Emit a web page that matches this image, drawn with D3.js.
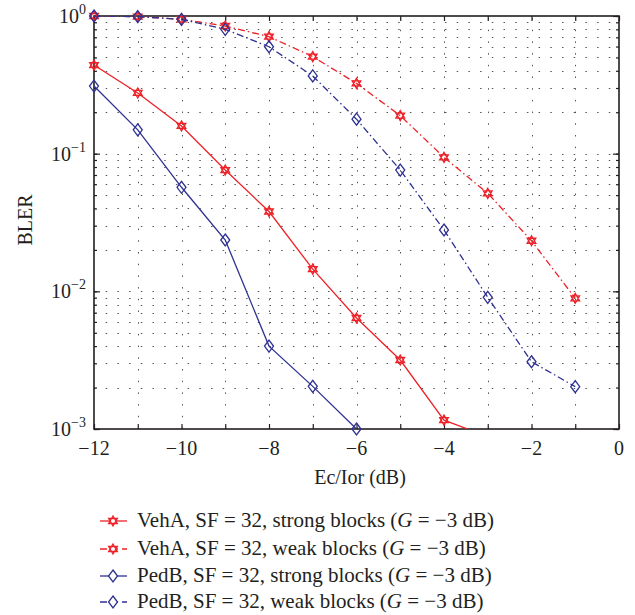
<!DOCTYPE html>
<html>
<head>
<meta charset="utf-8">
<script src="https://cdn.jsdelivr.net/npm/d3@7"></script>
<style>
  html, body { margin: 0; padding: 0; background: #fff; }
  svg { display: block; }
  text { font-family: "Liberation Serif", "DejaVu Serif", serif; fill: #231f20; }
</style>
</head>
<body>
<svg id="chart" width="635" height="615"></svg>
<script>
// ---- data ----
const xValues = [-12, -11, -10, -9, -8, -7, -6, -5, -4, -3, -2, -1];
const vehAStrong = [0.44, 0.276, 0.159, 0.076, 0.038, 0.0145, 0.0064, 0.00317, 0.00116, 0.00088];
const vehAWeak   = [1.0, 0.99, 0.946, 0.846, 0.708, 0.507, 0.324, 0.189, 0.094, 0.0515, 0.0233, 0.0089];
const pedBStrong = [0.31, 0.149, 0.057, 0.0236, 0.0040, 0.00204, 0.0010];
const pedBWeak   = [1.0, 0.99, 0.946, 0.80, 0.598, 0.367, 0.178, 0.076, 0.0279, 0.00905, 0.00308, 0.00203];
const seriesNames = [
  "VehA, SF = 32, strong blocks",
  "VehA, SF = 32, weak blocks",
  "PedB, SF = 32, strong blocks",
  "PedB, SF = 32, weak blocks"
];
const xTickValues = [-12, -10, -8, -6, -4, -2, 0];
const xTickLabels = ["\u221212", "\u221210", "\u22128", "\u22126", "\u22124", "\u22122", "0"];
const yTickExponents = [0, -1, -2, -3];
const yTickLabels = ["0", "\u22121", "\u22122", "\u22123"];
const xLabel = "Ec/Ior (dB)";
const yLabel = "BLER";

// ---- layout ----
const red = "#ed2127", blue = "#2e3192";
const margin = { left: 94, right: 16, top: 16, bottom: 186 };
const W = 635, H = 615;
const x0 = margin.left, x1 = W - margin.right, y0 = margin.top, y1 = H - margin.bottom;

const svg = d3.select("#chart");
const x = d3.scaleLinear().domain([-12, 0]).range([x0, x1]);
const y = d3.scaleLog().domain([1e-3, 1]).range([y1, y0]);

svg.append("defs").append("clipPath").attr("id", "clip")
  .append("rect").attr("x", x0).attr("y", y0).attr("width", x1 - x0).attr("height", y1 - y0);

// grid values
const minorY = [];
for (let e = -3; e < 0; e++) for (let m = 1; m <= 9; m++) minorY.push(m * Math.pow(10, e));
minorY.push(1);
const gridX = d3.range(-11, 0, 1);

const grid = svg.append("g");
grid.selectAll(".hg").data(minorY.filter(v => v > 1e-3 && v < 1)).join("line")
  .attr("x1", x0).attr("x2", x1)
  .attr("y1", d => Math.round(y(d)) + 0.5).attr("y2", d => Math.round(y(d)) + 0.5)
  .attr("stroke", "#555").attr("stroke-width", 1).attr("stroke-dasharray", "1.5,10.2");
grid.selectAll(".vg").data(gridX).join("line")
  .attr("x1", d => Math.round(x(d)) + 0.5).attr("x2", d => Math.round(x(d)) + 0.5)
  .attr("y1", y1).attr("y2", y0)
  .attr("stroke", "#555").attr("stroke-width", 1).attr("stroke-dasharray", "1.5,10.2");

// axes (ticks inward)
const axB = d3.axisBottom(x).tickValues(d3.range(-12, 1, 1)).tickSize(-5).tickFormat("");
const axT = d3.axisTop(x).tickValues(d3.range(-12, 1, 1)).tickSize(-5).tickFormat("");
const majorY = yTickExponents.map(e => Math.pow(10, e));
const axLmin = d3.axisLeft(y).tickValues(minorY).tickSize(-3).tickFormat("");
const axLmaj = d3.axisLeft(y).tickValues(majorY).tickSize(-6).tickFormat("");
const axRmin = d3.axisRight(y).tickValues(minorY).tickSize(-3).tickFormat("");
const axRmaj = d3.axisRight(y).tickValues(majorY).tickSize(-6).tickFormat("");
function styleAxis(g) {
  g.select(".domain").remove();
  g.selectAll("line").attr("stroke", "#231f20").attr("stroke-width", 1.2);
}
svg.append("g").attr("transform", `translate(0,${y1})`).call(axB).call(styleAxis);
svg.append("g").attr("transform", `translate(0,${y0})`).call(axT).call(styleAxis);
svg.append("g").attr("transform", `translate(${x0},0)`).call(axLmin).call(styleAxis);
svg.append("g").attr("transform", `translate(${x0},0)`).call(axLmaj).call(styleAxis);
svg.append("g").attr("transform", `translate(${x1},0)`).call(axRmin).call(styleAxis);
svg.append("g").attr("transform", `translate(${x1},0)`).call(axRmaj).call(styleAxis);
svg.append("rect").attr("x", x0).attr("y", y0).attr("width", x1 - x0).attr("height", y1 - y0)
  .attr("fill", "none").attr("stroke", "#231f20").attr("stroke-width", 1.6);

// tick labels
svg.append("g").selectAll("text").data(xTickValues).join("text")
  .attr("x", d => x(d)).attr("y", y1 + 26)
  .attr("text-anchor", "middle").attr("font-size", 20)
  .text((d, i) => xTickLabels[i]);
const yl = svg.append("g").selectAll("text").data(yTickExponents).join("text")
  .attr("x", x0 - 8).attr("y", d => y(Math.pow(10, d)) + 7)
  .attr("text-anchor", "end").attr("font-size", 20);
yl.append("tspan").text("10");
yl.append("tspan").attr("dy", -9).attr("font-size", 14).text((d, i) => yTickLabels[i]);

// axis titles
svg.append("text").attr("x", 360).attr("y", 484).attr("text-anchor", "middle")
  .attr("font-size", 20).text(xLabel);
svg.append("text").attr("transform", "translate(32,220) rotate(-90)")
  .attr("text-anchor", "middle").attr("font-size", 20).text(yLabel);

// markers
function hexagram(r) {
  const p = d3.path();
  for (let t = 0; t < 2; t++) {
    for (let k = 0; k < 3; k++) {
      const a = -Math.PI / 2 + t * Math.PI + k * 2 * Math.PI / 3;
      const px = r * Math.cos(a), py = r * Math.sin(a);
      if (k === 0) p.moveTo(px, py); else p.lineTo(px, py);
    }
    p.closePath();
  }
  return p.toString();
}
function diamond(w, h) {
  return `M0,${-h}L${w},0L0,${h}L${-w},0Z`;
}

const series = [
  { vals: vehAStrong, color: red, dash: null, marker: hexagram(5) },
  { vals: vehAWeak, color: red, dash: "7,3,1.5,3", marker: hexagram(5) },
  { vals: pedBStrong, color: blue, dash: null, marker: diamond(4.5, 6) },
  { vals: pedBWeak, color: blue, dash: "7,3,1.5,3", marker: diamond(4.5, 6) }
];

const line = d3.line().x(d => x(d[0])).y(d => y(d[1]));
const plot = svg.append("g");
series.forEach(s => {
  const pts = s.vals.map((v, i) => [xValues[i], v]);
  plot.append("path").attr("d", line(pts)).attr("clip-path", "url(#clip)")
    .attr("fill", "none").attr("stroke", s.color).attr("stroke-width", 1.3)
    .attr("stroke-dasharray", s.dash);
  plot.append("g").selectAll("path").data(pts.filter(p => p[1] >= 0.99e-3)).join("path")
    .attr("transform", p => `translate(${x(p[0])},${y(p[1])})`)
    .attr("d", s.marker).attr("fill", "none").attr("stroke", s.color).attr("stroke-width", 1.3);
});

// legend
const legY = [521, 549, 576, 602];
const lg = svg.append("g");
series.forEach((s, i) => {
  const g = lg.append("g").attr("transform", `translate(0,${legY[i]})`);
  g.append("line").attr("x1", 100).attr("x2", 127).attr("y1", 0).attr("y2", 0)
    .attr("stroke", s.color).attr("stroke-width", 1.3)
    .attr("stroke-dasharray", s.dash ? "7,4" : null);
  g.append("path").attr("transform", "translate(113,0)").attr("d", s.marker)
    .attr("fill", "#fff").attr("stroke", s.color).attr("stroke-width", 1.3);
  const t = g.append("text").attr("x", 137).attr("y", 6).attr("font-size", 21);
  t.append("tspan").text(seriesNames[i] + " (");
  t.append("tspan").attr("font-style", "italic").text("G");
  t.append("tspan").text(" = \u22123 dB)");
});
</script>
</body>
</html>
